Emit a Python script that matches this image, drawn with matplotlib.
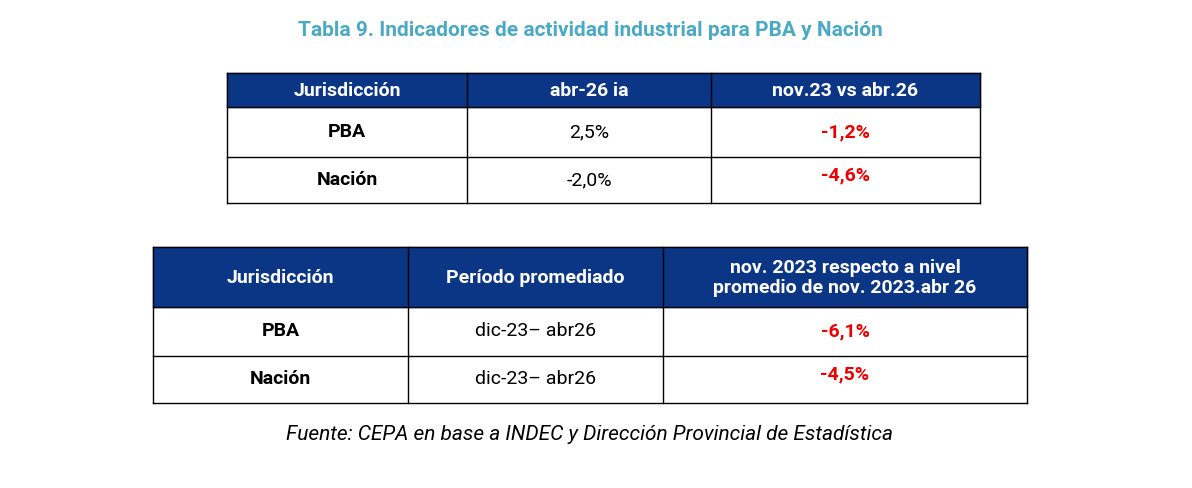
import matplotlib as mpl
import matplotlib.pyplot as plt
from matplotlib.patches import Rectangle
mpl.rcParams['font.family'] = ['Roboto', 'DejaVu Sans']
mpl.rcParams['font.size'] = 14

azul = '#0a3685'
rojo = '#ee0000'

tablas = [
    {'cols': [227, 467, 711, 980], 'rows': [73, 107, 157, 203],
     'header': ['Jurisdicción', 'abr-26 ia', 'nov.23 vs abr.26'],
     'body': [['PBA', '2,5%', '-1,2%'], ['Nación', '-2,0%', '-4,6%']]},
    {'cols': [153, 408, 663, 1027], 'rows': [247, 307, 356, 403],
     'header': ['Jurisdicción', 'Período promediado', 'nov. 2023 respecto a nivel\npromedio de nov. 2023.abr 26'],
     'body': [['PBA', 'dic-23\u2013 abr26', '-6,1%'], ['Nación', 'dic-23\u2013 abr26', '-4,5%']]},
]

fig = plt.figure(figsize=(11.92, 4.88), dpi=100, facecolor='white')
ax = fig.add_axes([0, 0, 1, 1])
ax.set_xlim(0, 1192)
ax.set_ylim(488, 0)
ax.axis('off')

ax.text(590, 30, 'Tabla 9. Indicadores de actividad industrial para PBA y Nación',
        ha='center', va='center', color='#4aa9c4', weight='bold', fontsize=15)

for t in tablas:
    c, r = t['cols'], t['rows']
    ax.add_patch(Rectangle((c[0], r[0]), c[-1] - c[0], r[1] - r[0], color=azul))
    for j, h in enumerate(t['header']):
        ax.text((c[j] + c[j + 1]) / 2, (r[0] + r[1]) / 2 + 1, h, ha='center', va='center',
                color='white', weight='bold', linespacing=1.1)
    for i, fila in enumerate(t['body']):
        ym = (r[i + 1] + r[i + 2]) / 2
        for j, v in enumerate(fila):
            if j == 0:
                ax.text((c[0] + c[1]) / 2, ym, v, ha='center', va='center', weight='bold')
            elif j == 2:
                ax.text((c[2] + c[3]) / 2, ym - 5 * i, v, ha='center', va='center', weight='bold', color=rojo)
            else:
                ax.text((c[j] + c[j + 1]) / 2, ym, v, ha='center', va='center')
    for x in c:
        ax.plot([x, x], [r[0], r[-1]], color='black', lw=1)
    for y in r:
        ax.plot([c[0], c[-1]], [y, y], color='black', lw=1)

ax.text(590, 434, 'Fuente: CEPA en base a INDEC y Dirección Provincial de Estadística',
        ha='center', va='center', style='italic', fontsize=15)

fig.savefig('out.png', dpi=100, facecolor='white')
